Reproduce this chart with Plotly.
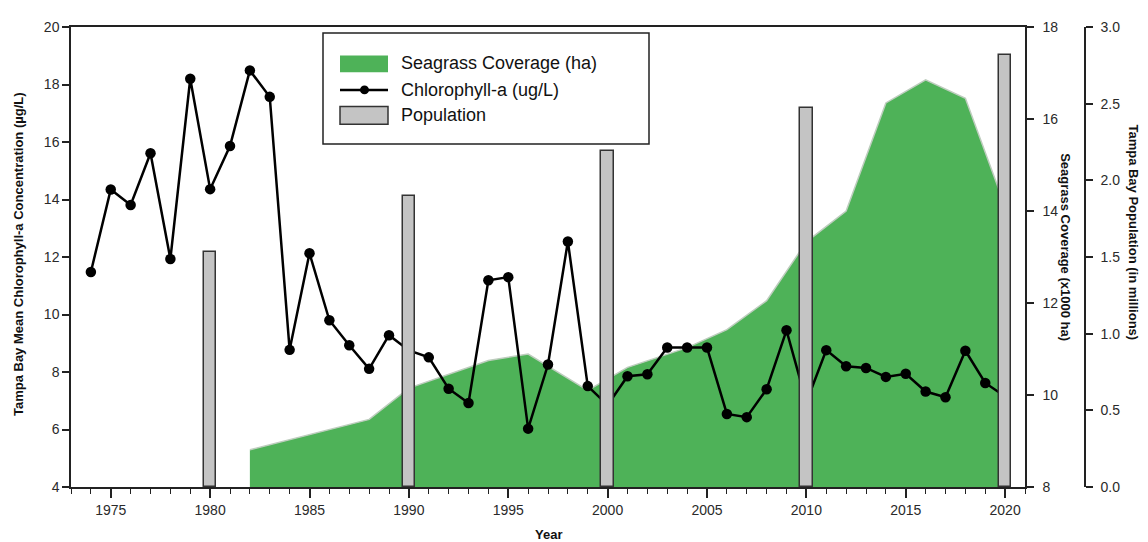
import plotly.graph_objects as go

# ---- data ----
chl_years = list(range(1974, 2021))
chl_values = [11.48, 14.35, 13.81, 15.61, 11.93, 18.2, 14.36, 15.86, 18.49, 17.57,
              8.77, 12.13, 9.8, 8.93, 8.11, 9.28, 8.75, 8.51, 7.42, 6.92,
              11.19, 11.3, 6.03, 8.26, 12.54, 7.51, 6.85, 7.85, 7.92, 8.85,
              8.85, 8.85, 6.54, 6.43, 7.4, 9.45, 6.95, 8.76, 8.2, 8.14,
              7.83, 7.94, 7.32, 7.12, 8.74, 7.62, 7.15]

sg_years = [1982, 1988, 1990, 1992, 1994, 1996, 1999, 2001, 2004, 2006, 2008,
            2010, 2012, 2014, 2016, 2018, 2020]
sg_values = [8.81, 9.47, 10.15, 10.45, 10.75, 10.89, 10.1, 10.6, 11.03, 11.42, 12.05,
             13.33, 14.0, 16.35, 16.85, 16.45, 14.1]

pop_years = [1980, 1990, 2000, 2010, 2020]
pop_values = [1.53, 1.90, 2.19, 2.47, 2.82]

x_tickvals = [1975, 1980, 1985, 1990, 1995, 2000, 2005, 2010, 2015, 2020]

legend_labels = ["Seagrass Coverage (ha)", "Chlorophyll-a (ug/L)", "Population"]

FONT = "Liberation Sans, Arial, sans-serif"
TICKCOL = "#2a2a2a"
GREEN = "rgb(78,178,88)"
BARFILL = "#c4c4c4"

fig = go.Figure()

fig.add_trace(go.Scatter(
    x=sg_years, y=sg_values, yaxis="y", name=legend_labels[0],
    mode="lines", fill="tozeroy", fillcolor=GREEN,
    line=dict(color="rgb(190,205,190)", width=1.5), showlegend=False,
))
fig.add_trace(go.Scatter(
    x=chl_years, y=chl_values, yaxis="y2", name=legend_labels[1],
    mode="lines+markers", line=dict(color="black", width=2.5),
    marker=dict(color="black", size=10.5), showlegend=False,
))
fig.add_trace(go.Bar(
    x=pop_years, y=pop_values, yaxis="y3", name=legend_labels[2],
    width=0.62, marker=dict(color=BARFILL, line=dict(color="#333333", width=1.5)),
    showlegend=False,
))

# page body has an 8px margin; work in screen pixels
OFF = 8
W, H = 1140, 534
ml, mr, mt, mb = 63, 12, 11, 55
pw = W - ml - mr
ph = H - mt - mb
xend = (1025 - OFF - ml) / pw
pop_pos = (1085 - OFF - ml) / pw

def px_x(sx):
    return (sx - OFF - ml) / pw

def px_y(sy):
    return (H - mb - (sy - OFF)) / ph

def axis_common(ticklen=7, standoff=None):
    d = dict(showline=True, linecolor="#222", linewidth=1.5, ticks="outside",
             tickcolor="#222", tickwidth=1.5, ticklen=ticklen, showgrid=False,
             zeroline=False, tickfont=dict(family=FONT, size=14, color=TICKCOL))
    if standoff is not None:
        d["ticklabelstandoff"] = standoff
    return d

fig.update_layout(
    width=W, height=H,
    margin=dict(l=ml, r=mr, t=mt, b=mb),
    paper_bgcolor="white", plot_bgcolor="white",
    showlegend=False,
    xaxis=dict(domain=[0, xend], range=[1973, 2021], tickvals=x_tickvals,
               mirror=True,
               minor=dict(dtick=1, tick0=1973, ticks="outside", ticklen=5,
                          tickcolor="#222", tickwidth=1.2),
               **axis_common(9)),
    yaxis=dict(side="right", anchor="x", range=[8, 18], dtick=2,
               **axis_common(7, 6)),
    yaxis2=dict(overlaying="y", side="left", anchor="x", range=[4, 20], dtick=2,
                **axis_common()),
    yaxis3=dict(overlaying="y", side="right", anchor="free", position=pop_pos,
                range=[0, 3], dtick=0.5, tickformat=".1f", **axis_common(7, 5)),
    bargap=0,
)

title_font = dict(family=FONT, size=13, color="#111")

def title(text, sx, sy, angle):
    fig.add_annotation(text=text, xref="paper", yref="paper", x=px_x(sx), y=px_y(sy),
                       xanchor="center", yanchor="middle", textangle=angle,
                       showarrow=False, font=title_font)

title("<b>Tampa Bay Mean Chlorophyll-a Concentration (µg/L)</b>", 18, 250, -90)
title("<b>Seagrass Coverage (x1000 ha)</b>", 1066, 243, 90)
title("<b>Tampa Bay Population (in millions)</b>", 1134, 228, 90)
title("<b>Year</b>", 548, 535, 0)

# ---- hand-drawn legend ----
def prect(x0, y0, x1, y1, **kw):
    fig.add_shape(type="rect", xref="paper", yref="paper",
                  x0=px_x(x0), x1=px_x(x1), y0=px_y(y1), y1=px_y(y0), **kw)

prect(323, 25, 649, 138, line=dict(color="#222", width=1.5), fillcolor="white")
prect(340, 48, 388, 65, line=dict(width=0), fillcolor=GREEN)
fig.add_shape(type="line", xref="paper", yref="paper",
              x0=px_x(340), x1=px_x(388), y0=px_y(83), y1=px_y(83),
              line=dict(color="black", width=2.5))
fig.add_shape(type="circle", xref="paper", yref="paper",
              x0=px_x(360), x1=px_x(369), y0=px_y(87.5), y1=px_y(78.5),
              line=dict(width=0), fillcolor="black")
prect(340, 100, 388, 118, line=dict(color="#333", width=1.5), fillcolor=BARFILL)

for lbl, yc in zip(legend_labels, [56, 83, 109]):
    fig.add_annotation(text=lbl, xref="paper", yref="paper", x=px_x(399), y=px_y(yc),
                       xanchor="left", yanchor="middle", showarrow=False,
                       font=dict(family=FONT, size=18, color="#111"))

fig.write_html("out.html")
